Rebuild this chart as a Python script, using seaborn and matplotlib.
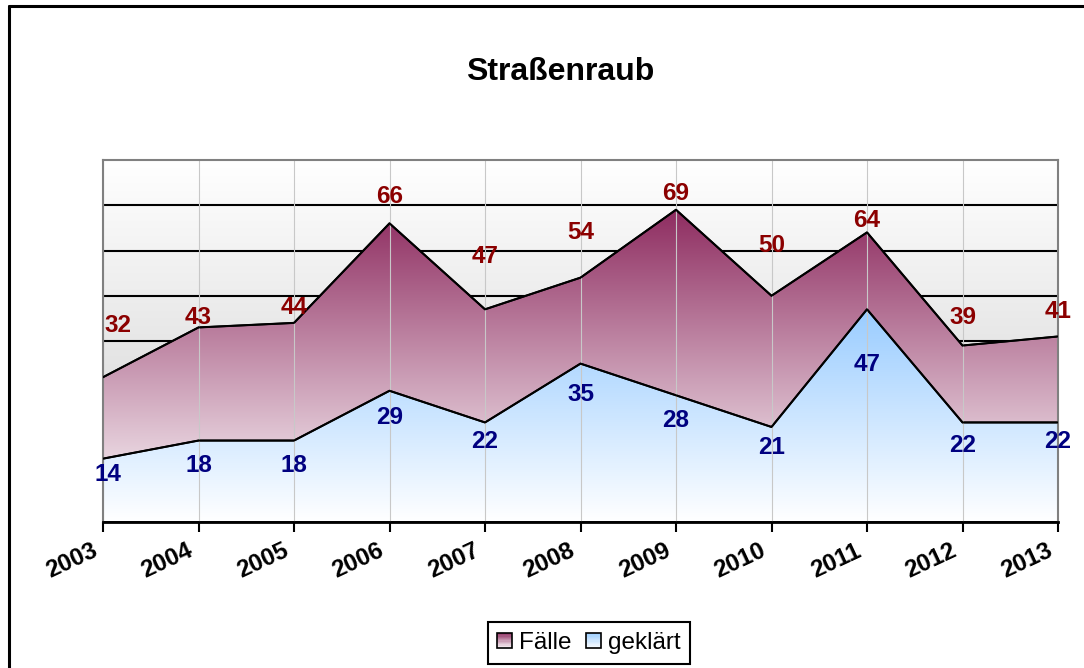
import matplotlib
matplotlib.use('Agg')
import matplotlib.pyplot as plt
import matplotlib.transforms as mtransforms
import numpy as np
import pandas as pd
import seaborn as sns
from matplotlib.colors import LinearSegmentedColormap
from matplotlib.patches import Rectangle, Patch
from matplotlib.legend_handler import HandlerBase
from matplotlib.lines import Line2D

years = [2003, 2004, 2005, 2006, 2007, 2008, 2009, 2010, 2011, 2012, 2013]
faelle = [32, 43, 44, 66, 47, 54, 69, 50, 64, 39, 41]
geklaert = [14, 18, 18, 29, 22, 35, 28, 21, 47, 22, 22]
series_names = ['Fälle', 'geklärt']

# label nudges (data units), Excel puts area labels a bit all over the place
faelle_dy = [11.5, 2.3, 3.5, 6.0, 11.6, 9.9, 3.7, 11.0, 2.7, 6.1, 5.6]
geklaert_dy = [-3.6, -5.6, -5.6, -5.8, -4.1, -6.9, -5.5, -4.6, -12.3, -5.0, -4.1]

FAELLE_TOP = '#8e2c60'
GEKLAERT_TOP = '#99ccff'
FAELLE_TXT = '#8b0000'
GEKLAERT_TXT = '#000080'


def gradient_area(ax, x, y, top_color, z):
    poly = ax.fill_between(x, 0, y, facecolor='none', edgecolor='black', lw=1.3, zorder=z + 0.1)
    cmap = LinearSegmentedColormap.from_list('g', ['white', top_color])
    grad = np.linspace(0, 1, 256).reshape(-1, 1)
    im = ax.imshow(grad, cmap=cmap, origin='lower', aspect='auto',
                   extent=[min(x), max(x), 0, max(y)], zorder=z)
    im.set_clip_path(poly.get_paths()[0], transform=ax.transData)


class GradientHandler(HandlerBase):
    def __init__(self, color):
        super().__init__()
        self.color = color

    def create_artists(self, legend, orig_handle, xdescent, ydescent, width, height, fontsize, trans):
        cmap = LinearSegmentedColormap.from_list('g', ['white', self.color])
        n = 12
        arts = []
        for i in range(n):
            r = Rectangle((-xdescent, -ydescent + height * i / n), width, height / n,
                          facecolor=cmap((i + 0.5) / n), edgecolor='none', transform=trans)
            arts.append(r)
        arts.append(Rectangle((-xdescent, -ydescent), width, height, facecolor='none',
                              edgecolor='black', lw=1.2, transform=trans))
        return arts


sns.set_theme(style='white')
plt.rcParams['font.family'] = ['Liberation Sans', 'DejaVu Sans']
plt.rcParams['text.color'] = 'black'

fig = plt.figure(figsize=(10.84, 6.68), dpi=100)
ax = fig.add_axes([103 / 1084, 1 - 522 / 668, 955 / 1084, 362 / 668])

# plot area background: soft grey gradient
bg = LinearSegmentedColormap.from_list('bg', ['#cfcfcf', 'white'])
ax.imshow(np.linspace(0, 1, 256).reshape(-1, 1), cmap=bg, origin='lower', aspect='auto',
          extent=[years[0], years[-1], 0, 80], zorder=0)

gradient_area(ax, years, faelle, FAELLE_TOP, 1)
gradient_area(ax, years, geklaert, GEKLAERT_TOP, 1.5)

df = pd.DataFrame({'Jahr': years * 2,
                   'Wert': faelle + geklaert,
                   'Serie': [series_names[0]] * len(years) + [series_names[1]] * len(years)})
sns.lineplot(data=df, x='Jahr', y='Wert', hue='Serie', palette=['black', 'black'],
             lw=1.5, legend=False, ax=ax, zorder=3)

ax.vlines(years, 0, 80, colors='#c8c8c8', lw=0.8, zorder=2)

ax.set_xlim(years[0], years[-1])
ax.set_ylim(0, 80)
ax.set_yticks(np.arange(10, 80, 10))
ax.yaxis.grid(True, color='black', lw=1.5)
ax.set_axisbelow(True)
ax.tick_params(axis='y', left=False, labelleft=False)
ax.set_xlabel('')
ax.set_ylabel('')

ax.set_xticks(years)
ax.set_xticklabels([str(y) for y in years], rotation=25, ha='right', va='top',
                   rotation_mode='anchor', fontsize=17.5, fontweight='bold', color='black')
ax.tick_params(axis='x', bottom=True, direction='out', length=7, width=1.5, color='black', pad=4)
offset = mtransforms.ScaledTranslation(-0.12, -0.02, fig.dpi_scale_trans)
for lab in ax.get_xticklabels():
    lab.set_transform(lab.get_transform() + offset)

for side in ['top', 'right', 'left']:
    ax.spines[side].set_color('#808080')
    ax.spines[side].set_linewidth(1.5)
ax.spines['bottom'].set_color('black')
ax.spines['bottom'].set_linewidth(2)

for i, (x, v, dy) in enumerate(zip(years, faelle, faelle_dy)):
    dx = 0.16 if i == 0 else 0
    ax.text(x + dx, v + dy, str(v), color=FAELLE_TXT, fontsize=17.5, fontweight='bold',
            ha='center', va='center', zorder=5, clip_on=False)
for i, (x, v, dy) in enumerate(zip(years, geklaert, geklaert_dy)):
    dx = 0.05 if i == 0 else 0
    ax.text(x + dx, v + dy, str(v), color=GEKLAERT_TXT, fontsize=17.5, fontweight='bold',
            ha='center', va='center', zorder=5, clip_on=False)

fig.text(560 / 1084, 1 - 72 / 668, 'Straßenraub', ha='center', va='center',
         fontsize=23, fontweight='bold', color='black')

h1, h2 = Patch(label=series_names[0]), Patch(label=series_names[1])
leg = fig.legend(handles=[h1, h2], loc='center', bbox_to_anchor=(589 / 1084, 1 - 643 / 668),
                 ncol=2, fontsize=17.5, frameon=True, fancybox=False, framealpha=1,
                 edgecolor='black', handlelength=0.6, handleheight=0.6,
                 handletextpad=0.3, columnspacing=0.6, borderpad=0.4,
                 handler_map={h1: GradientHandler(FAELLE_TOP), h2: GradientHandler(GEKLAERT_TOP)})
leg.get_frame().set_linewidth(1.5)
for t in leg.get_texts():
    t.set_color('black')

# outer chart border (only left and top visible in the crop)
fig.add_artist(Line2D([9 / 1084, 9 / 1084], [0, 1 - 6 / 668], color='black', lw=2.2))
fig.add_artist(Line2D([9 / 1084, 1], [1 - 6 / 668, 1 - 6 / 668], color='black', lw=2.2))

fig.savefig('out.png', dpi=100)
